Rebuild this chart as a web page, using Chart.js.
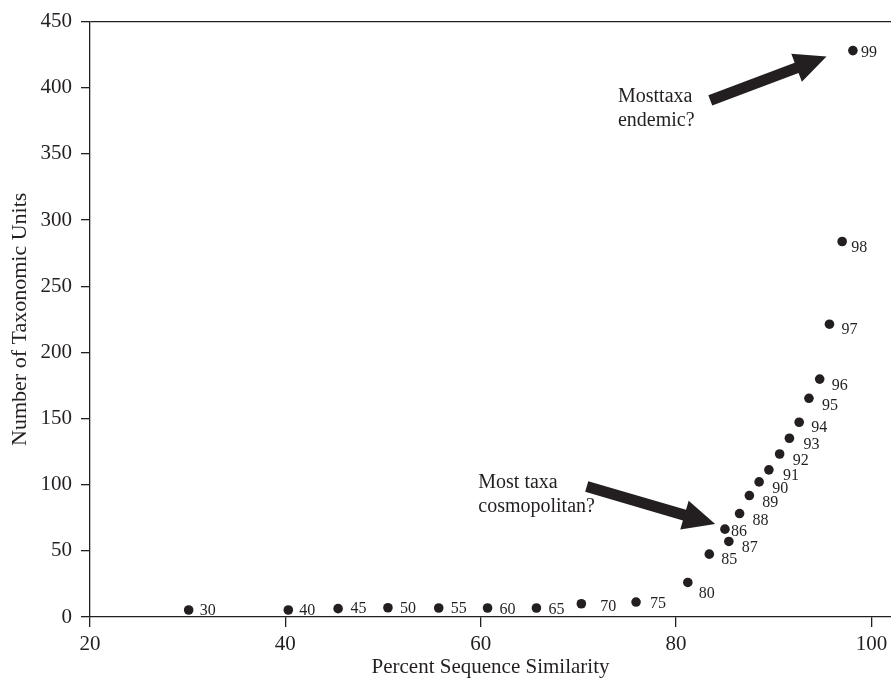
<!DOCTYPE html>
<html>
<head>
<meta charset="utf-8">
<script src="https://cdn.jsdelivr.net/npm/chart.js@4/dist/chart.umd.min.js"></script>
<style>
  html, body { margin: 0; padding: 0; background: #fff; }
</style>
</head>
<body>
<canvas id="mainChart" width="891" height="680"></canvas>
<script>
// Hodnoty
const similarity = [30.1, 40.3, 45.4, 50.5, 55.7, 60.7, 65.7, 70.3, 75.9, 81.2, 83.4, 85.0, 85.4, 86.5, 87.5, 88.5, 89.5, 90.6, 91.6, 92.6, 93.6, 94.7, 95.7, 97.0, 98.1];
const taxonUnits = [5.3, 5.3, 6.3, 7.0, 6.8, 6.8, 6.8, 10.0, 11.3, 26.1, 47.5, 66.4, 57.1, 78.2, 91.8, 102.1, 111.2, 123.2, 135.1, 147.2, 165.3, 179.8, 221.3, 283.8, 428.1];
const pointLabels = ['30', '40', '45', '50', '55', '60', '65', '70', '75', '80', '85', '86', '87', '88', '89', '90', '91', '92', '93', '94', '95', '96', '97', '98', '99'];
const xTicks = [20, 40, 60, 80, 100];

// šipky a popisky v datových souřadnicích
const arrows = [
    { from: [83.5, 390.4], to: [95.4, 423.6] },
    { from: [70.85, 98.6], to: [84.0, 70.2] }
];
const notes = [
    { at: [74.05, 392.9], lines: ['Mosttaxa', 'endemic?'] },
    { at: [59.75, 101.1], lines: ['Most taxa', 'cosmopolitan?'] }
];

// posun popisků bodů v pixelech (dx, dy)
const labelOffsets = [
    [11, 1], [11, 1], [12.5, 0], [12, 1.5], [12, 1], [12, 2], [12, 2], [19, 3], [14, 2], [11, 11],
    [12, 6], [6, 3], [13, 6], [13, 7], [13, 7], [13, 7], [14, 6], [13, 7], [14, 7], [12, 6],
    [13, 8], [12, 7], [12, 6], [9, 6], [8, 2]
];

const INK = '#231f20';
const SERIF = '"Liberation Serif", "DejaVu Serif", serif';

const pointLabelPlugin = {
    id: 'pointLabels',
    afterDatasetsDraw(chart) {
        const ctx = chart.ctx;
        const meta = chart.getDatasetMeta(0);
        ctx.save();
        ctx.font = '16px ' + SERIF;
        ctx.fillStyle = INK;
        ctx.textAlign = 'left';
        ctx.textBaseline = 'middle';
        meta.data.forEach((pt, i) => {
            const [dx, dy] = labelOffsets[i];
            ctx.fillText(pointLabels[i], pt.x + dx, pt.y + dy);
        });
        ctx.restore();
    }
};

const annotationPlugin = {
    id: 'arrowNotes',
    afterDatasetsDraw(chart) {
        const ctx = chart.ctx;
        const xs = chart.scales.x;
        const ys = chart.scales.y;
        ctx.save();
        ctx.fillStyle = INK;

        arrows.forEach(a => {
            const x1 = xs.getPixelForValue(a.from[0]), y1 = ys.getPixelForValue(a.from[1]);
            const x2 = xs.getPixelForValue(a.to[0]), y2 = ys.getPixelForValue(a.to[1]);
            const ang = Math.atan2(y2 - y1, x2 - x1);
            const len = Math.hypot(x2 - x1, y2 - y1);
            const headLen = 32, headHalf = 15, shaftHalf = 5.5;
            ctx.save();
            ctx.translate(x1, y1);
            ctx.rotate(ang);
            ctx.beginPath();
            ctx.moveTo(0, -shaftHalf);
            ctx.lineTo(len - headLen, -shaftHalf);
            ctx.lineTo(len - headLen, -headHalf);
            ctx.lineTo(len, 0);
            ctx.lineTo(len - headLen, headHalf);
            ctx.lineTo(len - headLen, shaftHalf);
            ctx.lineTo(0, shaftHalf);
            ctx.closePath();
            ctx.fill();
            ctx.restore();
        });

        ctx.font = '20px ' + SERIF;
        ctx.textAlign = 'left';
        ctx.textBaseline = 'middle';
        notes.forEach(n => {
            const x = xs.getPixelForValue(n.at[0]);
            const y = ys.getPixelForValue(n.at[1]);
            n.lines.forEach((line, i) => ctx.fillText(line, x, y + i * 24));
        });
        ctx.restore();
    }
};

const ctx = document.getElementById('mainChart').getContext('2d');
new Chart(ctx, {
    type: 'scatter',
    data: {
        datasets: [{
            data: similarity.map((x, i) => ({ x: x, y: taxonUnits[i] })),
            backgroundColor: INK,
            borderWidth: 0,
            pointRadius: 4.8,
            pointHoverRadius: 4.8
        }]
    },
    plugins: [pointLabelPlugin, annotationPlugin],
    options: {
        responsive: false,
        animation: false,
        layout: { autoPadding: false, padding: { top: 21, right: 0, bottom: 0, left: 0 } },
        plugins: {
            legend: { display: false },
            tooltip: { enabled: false }
        },
        scales: {
            x: {
                type: 'linear',
                min: 20,
                max: 102,
                afterBuildTicks: scale => {
                    scale.ticks = xTicks.map(v => ({ value: v }));
                },
                afterFit: scale => {
                    scale.height = 63;
                    scale.paddingLeft = 0;
                    scale.paddingRight = 0;
                },
                border: { display: true, color: INK, width: 1.3 },
                grid: { drawOnChartArea: false, drawTicks: true, tickLength: 10, tickColor: INK, lineWidth: 1.3 },
                ticks: { color: INK, font: { family: SERIF, size: 21 }, padding: 5, maxRotation: 0 },
                title: { display: true, text: 'Percent Sequence Similarity', color: INK, font: { family: SERIF, size: 21 }, padding: { top: 0, bottom: 0 } }
            },
            y: {
                min: 0,
                max: 450,
                afterFit: scale => { scale.width = 90; },
                border: { display: true, color: INK, width: 1.3 },
                grid: {
                    drawOnChartArea: true,
                    color: c => (c.tick && c.tick.value === 450 ? INK : 'rgba(0,0,0,0)'),
                    lineWidth: 1.3,
                    tickLength: 9,
                    tickColor: INK
                },
                ticks: { stepSize: 50, color: INK, font: { family: SERIF, size: 21 }, padding: 9 },
                title: { display: true, text: 'Number of Taxonomic Units', color: INK, font: { family: SERIF, size: 22 }, padding: { top: 7, bottom: 0 } }
            }
        }
    }
});
</script>
</body>
</html>
